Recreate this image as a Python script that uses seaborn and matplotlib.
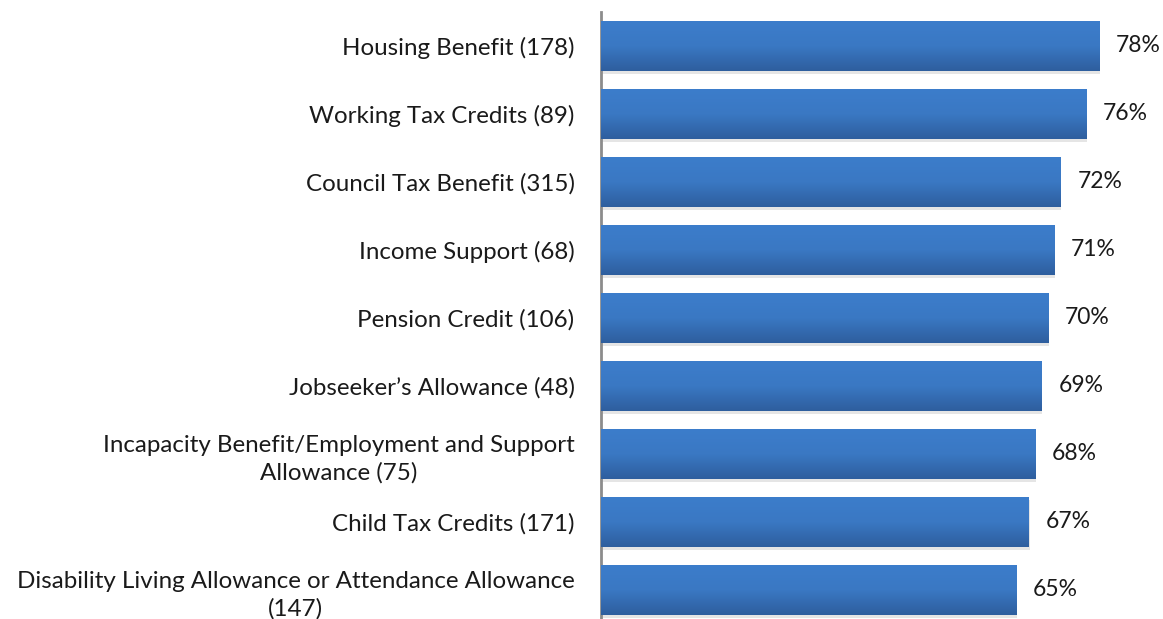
import numpy as np
import pandas as pd
import matplotlib.pyplot as plt
import seaborn as sns
from matplotlib.colors import LinearSegmentedColormap

# Дані
categories = [
    "Housing Benefit (178)",
    "Working Tax Credits (89)",
    "Council Tax Benefit (315)",
    "Income Support (68)",
    "Pension Credit (106)",
    "Jobseeker\u2019s Allowance (48)",
    "Incapacity Benefit/Employment and Support\nAllowance (75)",
    "Child Tax Credits (171)",
    "Disability Living Allowance or Attendance Allowance\n(147)",
]
values = [78, 76, 72, 71, 70, 69, 68, 67, 65]

df = pd.DataFrame({"benefit": categories, "pct": values})

sns.set_style("white")
plt.rcParams["font.family"] = ["Lato", "DejaVu Sans"]

fig = plt.figure(figsize=(11.63, 6.19), dpi=100)
ax = fig.add_axes([601 / 1163, -5 / 619, (1163 - 601) / 1163, 612 / 619])

sns.barplot(data=df, y="benefit", x="pct", orient="h", color="#3874C2",
            width=0.735, saturation=1, linewidth=0, ax=ax)

# Градієнт і тінь на кожному стовпчику
grad = LinearSegmentedColormap.from_list("g", ["#3C7DCB", "#3A78C3", "#2E5E9E"])
for bar in ax.patches[:]:
    x0, y0 = bar.get_x(), bar.get_y()
    w, h = bar.get_width(), bar.get_height()
    ax.add_patch(plt.Rectangle((x0 + 0.1, y0 + 0.05), w, h, color="#cccccc",
                               alpha=0.5, zorder=1, lw=0))
    bar.set_zorder(2)
    img = ax.imshow(np.linspace(0, 1, 100).reshape(-1, 1), cmap=grad, aspect="auto",
                    extent=(x0, x0 + w, y0 + h, y0), zorder=3)
    img.set_clip_path(bar)

ax.set_xlim(0, 88)
ax.set_ylim(8.5, -0.5)

for i, v in enumerate(values):
    ax.text(v + 2.6, i, f"{v}%", va="center", ha="left", fontsize=16.5, color="#1a1a1a")

ax.set_xlabel("")
ax.set_ylabel("")
ax.set_xticks([])
ax.tick_params(axis="y", length=0, pad=19, labelsize=17.4, labelcolor="#1a1a1a")
for lbl in ax.get_yticklabels():
    lbl.set_multialignment("center")
    lbl.set_linespacing(1.35)

for s in ["top", "right", "bottom"]:
    ax.spines[s].set_visible(False)
ax.spines["left"].set_color("#8c8c8c")
ax.spines["left"].set_linewidth(2)

fig.savefig("out.png", dpi=100)
